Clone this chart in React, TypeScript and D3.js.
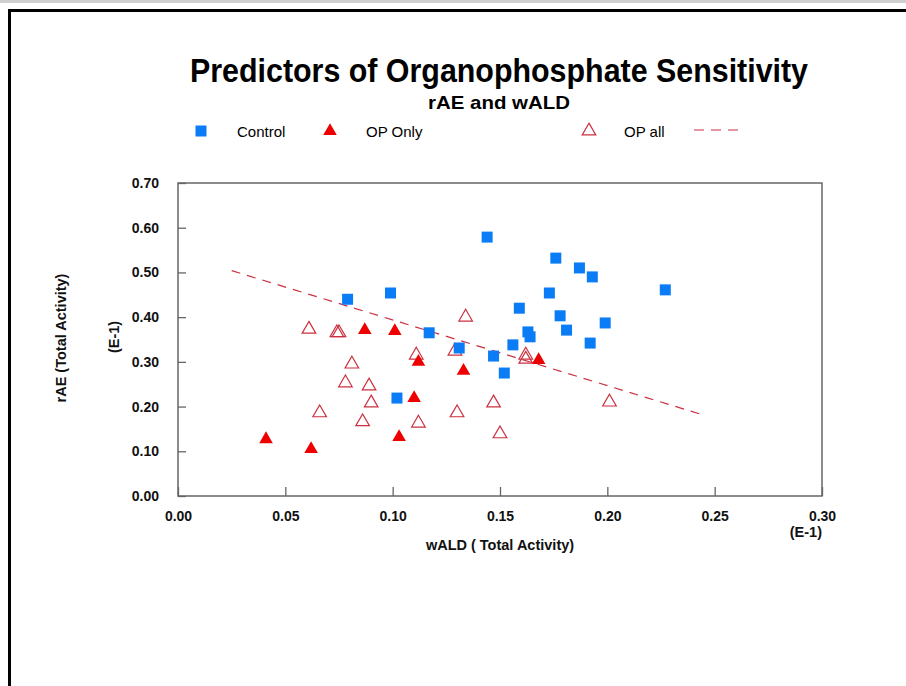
import React, { useRef, useEffect } from 'react';
import * as d3 from 'd3';

// Control (blue squares): [wALD, rAE]
const controlX = [0.079, 0.099, 0.117, 0.131, 0.102, 0.144, 0.176, 0.187, 0.193, 0.173, 0.159, 0.178, 0.163, 0.164, 0.181, 0.199, 0.156, 0.147, 0.192, 0.152, 0.227];
const controlY = [0.440, 0.454, 0.365, 0.331, 0.219, 0.579, 0.532, 0.510, 0.490, 0.454, 0.420, 0.403, 0.367, 0.356, 0.371, 0.387, 0.338, 0.313, 0.342, 0.275, 0.461];

// OP Only (filled red triangles)
const opOnlyX = [0.041, 0.062, 0.087, 0.101, 0.112, 0.110, 0.103, 0.133, 0.168];
const opOnlyY = [0.127, 0.105, 0.371, 0.369, 0.300, 0.219, 0.132, 0.280, 0.304];

// OP all (open triangles)
const opAllX = [0.061, 0.074, 0.075, 0.081, 0.078, 0.089, 0.090, 0.066, 0.086, 0.111, 0.129, 0.134, 0.162, 0.162, 0.201, 0.147, 0.130, 0.112, 0.150];
const opAllY = [0.373, 0.365, 0.365, 0.295, 0.253, 0.246, 0.208, 0.186, 0.166, 0.315, 0.324, 0.400, 0.315, 0.306, 0.210, 0.208, 0.186, 0.163, 0.139];

// OP all fitted line end points
const trendX = [0.025, 0.2455];
const trendY = [0.504, 0.180];

const xTicks = [0, 0.05, 0.1, 0.15, 0.2, 0.25, 0.3];
const yTicks = [0, 0.1, 0.2, 0.3, 0.4, 0.5, 0.6, 0.7];

const W = 906;
const H = 686;
const FONT = '"Liberation Sans", Arial, sans-serif';
const BLUE = '#0a7cf5';
const RED = '#ee0000';
const DARKRED = '#cc3040';
const TRI = 80;

const App = () => {
  const svgRef = useRef(null);

  useEffect(() => {
    const svg = d3.select(svgRef.current);
    svg.selectAll('*').remove();

    const left = 178, right = 822, top = 183, bottom = 496;
    const x = d3.scaleLinear().domain([0, 0.3]).range([left, right]);
    const y = d3.scaleLinear().domain([0, 0.7]).range([bottom, top]);

    // page frame
    svg.append('rect').attr('x', 0).attr('y', 0).attr('width', W).attr('height', 3).attr('fill', '#cfcfcf');
    svg.append('rect')
      .attr('x', 9.5).attr('y', 10.5)
      .attr('width', 1200).attr('height', 1200)
      .attr('fill', 'none').attr('stroke', '#000').attr('stroke-width', 3);

    // titles
    svg.append('text')
      .attr('x', 499).attr('y', 82)
      .attr('text-anchor', 'middle')
      .attr('font-family', FONT).attr('font-weight', 'bold').attr('font-size', 33)
      .attr('textLength', 618).attr('lengthAdjust', 'spacingAndGlyphs')
      .text('Predictors of Organophosphate Sensitivity');
    svg.append('text')
      .attr('x', 499).attr('y', 109)
      .attr('text-anchor', 'middle')
      .attr('font-family', FONT).attr('font-weight', 'bold').attr('font-size', 19)
      .attr('textLength', 142).attr('lengthAdjust', 'spacingAndGlyphs')
      .text('rAE and wALD');

    // legend
    const lg = svg.append('g').attr('font-family', FONT).attr('font-size', 15).attr('fill', '#000');
    const ly = 131;
    lg.append('path').attr('transform', `translate(201,${ly})`)
      .attr('d', d3.symbol(d3.symbolSquare, 121)()).attr('fill', BLUE);
    lg.append('text').attr('x', 237).attr('y', ly + 6).text('Control');
    lg.append('path').attr('transform', `translate(330,${ly})`)
      .attr('d', d3.symbol(d3.symbolTriangle, TRI)()).attr('fill', RED);
    lg.append('text').attr('x', 366).attr('y', ly + 6).text('OP Only');
    lg.append('path').attr('transform', `translate(589,${ly})`)
      .attr('d', d3.symbol(d3.symbolTriangle, TRI)()).attr('fill', 'none').attr('stroke', DARKRED).attr('stroke-width', 1.2);
    lg.append('text').attr('x', 624).attr('y', ly + 6).text('OP all');
    lg.append('line').attr('x1', 694).attr('x2', 740).attr('y1', ly - 1).attr('y2', ly - 1)
      .attr('stroke', DARKRED).attr('stroke-width', 1.2).attr('stroke-dasharray', '10,7');

    // axes
    const xAxis = svg.append('g').attr('transform', `translate(0,${bottom})`)
      .call(d3.axisBottom(x).tickValues(xTicks).tickFormat(d3.format('.2f')).tickSizeInner(-9).tickSizeOuter(0).tickPadding(14));
    const yAxis = svg.append('g').attr('transform', `translate(${left},0)`)
      .call(d3.axisLeft(y).tickValues(yTicks).tickFormat(d3.format('.2f')).tickSizeInner(-8).tickSizeOuter(0).tickPadding(19));
    [xAxis, yAxis].forEach(a => {
      a.select('.domain').remove();
      a.selectAll('line').attr('stroke', '#666').attr('stroke-width', 1.3);
      a.selectAll('text').attr('font-family', FONT).attr('font-weight', 'bold').attr('font-size', 14).attr('fill', '#111');
    });
    xAxis.selectAll('text').attr('dy', '0.75em');

    svg.append('rect')
      .attr('x', left).attr('y', top).attr('width', right - left).attr('height', bottom - top)
      .attr('fill', 'none').attr('stroke', '#666').attr('stroke-width', 1.5);

    // axis titles
    const at = svg.append('g').attr('font-family', FONT).attr('font-weight', 'bold').attr('font-size', 14.5).attr('fill', '#111');
    at.append('text').attr('x', right).attr('y', 537).attr('text-anchor', 'end').text('(E-1)');
    at.append('text').attr('x', 500).attr('y', 550).attr('text-anchor', 'middle').text('wALD ( Total Activity)');
    at.append('text').attr('transform', 'translate(66,338) rotate(-90)').attr('text-anchor', 'middle').text('rAE (Total Activity)');
    at.append('text').attr('transform', 'translate(119,337) rotate(-90)').attr('text-anchor', 'middle').text('(E-1)');

    // trend line
    svg.append('path')
      .datum(trendX.map((v, i) => [v, trendY[i]]))
      .attr('d', d3.line().x(d => x(d[0])).y(d => y(d[1])))
      .attr('fill', 'none').attr('stroke', DARKRED).attr('stroke-width', 1.2).attr('stroke-dasharray', '9,7');

    // OP all open triangles
    svg.append('g').selectAll('path')
      .data(opAllX.map((v, i) => [v, opAllY[i]]))
      .enter().append('path')
      .attr('transform', d => `translate(${x(d[0])},${y(d[1])})`)
      .attr('d', d3.symbol(d3.symbolTriangle, TRI)())
      .attr('fill', 'none').attr('stroke', DARKRED).attr('stroke-width', 1.2);

    // OP only filled triangles
    svg.append('g').selectAll('path')
      .data(opOnlyX.map((v, i) => [v, opOnlyY[i]]))
      .enter().append('path')
      .attr('transform', d => `translate(${x(d[0])},${y(d[1])})`)
      .attr('d', d3.symbol(d3.symbolTriangle, TRI)())
      .attr('fill', RED);

    // Control squares
    svg.append('g').selectAll('path')
      .data(controlX.map((v, i) => [v, controlY[i]]))
      .enter().append('path')
      .attr('transform', d => `translate(${x(d[0])},${y(d[1])})`)
      .attr('d', d3.symbol(d3.symbolSquare, 121)())
      .attr('fill', BLUE);
  }, []);

  return (
    <svg ref={svgRef} width={W} height={H}
      style={{ position: 'absolute', left: 0, top: 0, background: '#fff' }} />
  );
};

export default App;
